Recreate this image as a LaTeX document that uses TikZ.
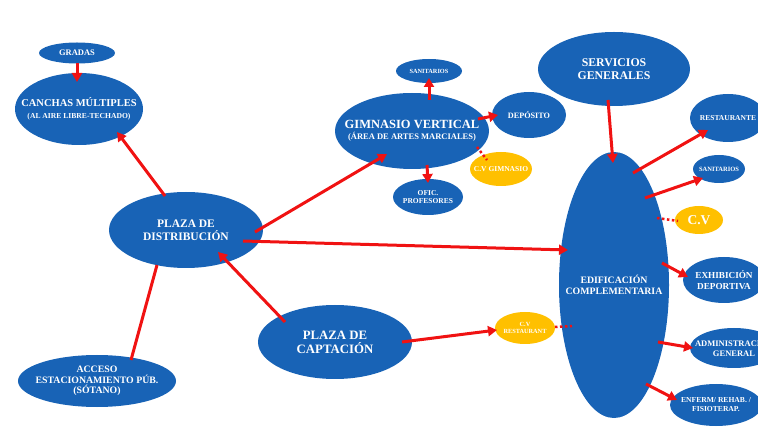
\documentclass[tikz,border=0pt]{standalone}
\usepackage{fontspec}
\setmainfont{Liberation Serif}
\usetikzlibrary{shapes.geometric,arrows.meta,calc}
\definecolor{nodeblue}{RGB}{24,99,182}
\definecolor{cvgold}{RGB}{255,192,0}
\definecolor{linkred}{RGB}{240,18,18}
\begin{document}
\begin{tikzpicture}[x=1pt,y=-1pt,
  bub/.style={ellipse,fill=nodeblue,inner sep=0pt},
  cvbub/.style={bub,fill=cvgold},
  lt/.style={text=white,align=center,inner sep=0pt},
  sz/.style 2 args={font=\bfseries\fontsize{#1}{#2}\selectfont},
  dim/.style 2 args={minimum width=#1pt,minimum height=#2pt},
  txt/.style 2 args={label={[lt,#1]center:{#2}}},
  link/.style={draw=linkred,line width=3pt,-{Triangle[length=9pt,width=10pt]}},
  tie/.style={draw=linkred,line width=3pt},
  dotlink/.style={draw=linkred,line width=2.5pt,dash pattern=on 2.5pt off 2.5pt}]
\useasboundingbox (0,0) rectangle (758,430);
\clip (0,0) rectangle (758,430);

% ---- left group
\node[bub,dim={76}{21},txt={sz={8.5}{9}}{GRADAS}] (gradas) at (77,53) {};
\node[bub,dim={128}{72},txt={sz={10.5}{12}}{CANCHAS MÚLTIPLES\\{\fontsize{7.6}{9}\selectfont(AL AIRE LIBRE-TECHADO)}}] (canchas) at (79,109) {};
\node[bub,dim={154}{76},txt={sz={11.5}{13}}{PLAZA DE\\DISTRIBUCIÓN}] (pd) at (186,230) {};
\node[bub,dim={158}{52},txt={sz={9.8}{10.5}}{ACCESO\\ESTACIONAMIENTO PÚB.\\(SÓTANO)}] (acceso) at (97,381) {};
\node[bub,dim={154}{74},txt={sz={12.8}{14}}{PLAZA DE\\CAPTACIÓN}] (pc) at (335,342) {};
\node[cvbub,dim={60}{32},txt={sz={6.3}{7}}{C.V\\RESTAURANT}] (cvr) at (525,328) {};

% ---- gymnasium group
\node[bub,dim={154}{76},txt={sz={12.5}{11}}{GIMNASIO VERTICAL\\{\fontsize{8.5}{9}\selectfont(ÁREA DE ARTES MARCIALES)}}] (gym) at (412,131) {};
\node[bub,dim={66}{24},txt={sz={6.3}{7}}{SANITARIOS}] (san1) at (429,71) {};
\node[bub,dim={74}{46},txt={sz={8.2}{9}}{DEPÓSITO}] (dep) at (529,115) {};
\node[cvbub,dim={62}{34},txt={sz={7.5}{8}}{C.V GIMNASIO}] (cvg) at (501,169) {};
\node[bub,dim={70}{36},txt={sz={7.5}{8.5}}{OFIC.\\PROFESORES}] (ofic) at (428,197) {};

% ---- complementary building group
\node[bub,dim={152}{74},txt={sz={11.8}{13}}{SERVICIOS\\GENERALES}] (serv) at (614,69) {};
\node[bub,dim={110}{266},txt={sz={9.8}{11.5}}{EDIFICACIÓN\\COMPLEMENTARIA}] (edif) at (614,285) {};
\node[bub,dim={76}{48},txt={sz={7.5}{8}}{RESTAURANTE}] (rest) at (728,118) {};
\node[bub,dim={52}{28},txt={sz={6.5}{7}}{SANITARIOS}] (san2) at (719,169) {};
\node[cvbub,dim={48}{28},txt={sz={13.5}{14}}{C.V}] (cv) at (699,220) {};
\node[bub,dim={82}{46},txt={sz={9.2}{10.5}}{EXHIBICIÓN\\DEPORTIVA}] (exh) at (724,280) {};
\node[bub,dim={88}{40},txt={sz={8.5}{10}}{ADMINISTRACIÓN\\GENERAL}] (adm) at (734,348) {};
\node[bub,dim={92}{42},txt={sz={7.6}{9}}{ENFERM/ REHAB. /\\FISIOTERAP.}] (enf) at (716,405) {};

% ---- connectors
\draw[link] ($(gradas)+(0,10)$) -- ($(canchas)+(-2,-27)$);
\draw[link] ($(pd)+(-21,-34)$) -- ($(canchas)+(38,23)$);
\draw[link] ($(pd)+(69,2)$) -- ($(gym)+(-25,23)$);
\draw[link] ($(pd)+(57,11)$) -- ($(edif)+(-46,-35)$);
\draw[tie] ($(acceso)+(34,-21)$) -- ($(pd)+(-29,35)$);
\draw[link] ($(pc)+(-50,-20)$) -- ($(pd)+(32,22)$);
\draw[link] ($(pc)+(67,0)$) -- ($(cvr)+(-28,2)$);
\draw[dotlink] ($(cvr)+(30,-1)$) -- ($(edif)+(-42,41)$);

\draw[link] ($(gym)+(17,-31)$) -- ($(san1)+(0,7)$);
\draw[link] ($(gym)+(66,-12)$) -- ($(dep)+(-31,0)$);
\draw[link] ($(gym)+(15,34)$) -- ($(ofic)+(0,-14)$);
\draw[dotlink] ($(gym)+(65,16)$) -- ($(cvg)+(-14,-9)$);

\draw[link] ($(serv)+(-6,31)$) -- ($(edif)+(-1,-122)$);
\draw[link] ($(edif)+(19,-112)$) -- ($(rest)+(-20,12)$);
\draw[link] ($(edif)+(31,-87)$) -- ($(san2)+(-16,9)$);
\draw[dotlink] ($(edif)+(43,-67)$) -- ($(cv)+(-21,1)$);
\draw[link] ($(edif)+(48,-22)$) -- ($(exh)+(-36,-3)$);
\draw[link] ($(edif)+(44,57)$) -- ($(adm)+(-41,0)$);
\draw[link] ($(edif)+(32,99)$) -- ($(enf)+(-39,-5)$);
\end{tikzpicture}
\end{document}
